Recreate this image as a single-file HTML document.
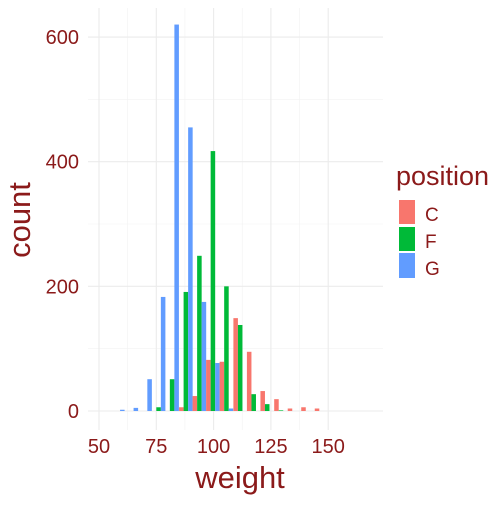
<!DOCTYPE html>
<html><head><meta charset="utf-8"><style>
body{margin:0;background:#fff}
svg text{font-family:"Liberation Sans",sans-serif;fill:#8b1a1a}
</style></head><body>
<svg id="chart" width="504" height="504" xmlns="http://www.w3.org/2000/svg">
<g id="grid"></g><g id="bars"></g><g id="axes"></g>
<text x="240" y="488" font-size="31" text-anchor="middle">weight</text>
<text transform="translate(30,220) rotate(-90)" font-size="31" text-anchor="middle">count</text>
<g>
<text x="396" y="185" font-size="27">position</text>
<rect x="399" y="200" width="16" height="24" fill="#f8766d"/>
<rect x="399" y="227" width="16" height="24" fill="#00ba38"/>
<rect x="399" y="253" width="16" height="25" fill="#619cff"/>
<text x="425" y="221" font-size="19">C</text>
<text x="425" y="248" font-size="19">F</text>
<text x="425" y="275" font-size="19">G</text>
</g>
</svg>
<script>
const binCenters=[58.2,64.1,70.1,76.0,81.9,87.9,93.8,99.7,105.6,111.6,117.5,123.4,129.4,135.3,141.2,147.1];
const countsC=[0,0,0,0,0,6,24,82,79,149,95,32,19,4,6,4];
const countsF=[0,0,0,6,51,191,249,417,200,138,27,11,1,0,0,0];
const countsG=[2,5,51,183,620,455,175,77,4,0,0,0,0,0,0,0];
const xTicks=[50,75,100,125,150];
const yTicks=[0,200,400,600];
const binWidth=5.93;
const NS="http://www.w3.org/2000/svg";
const px0=88,px1=383,py0=8,py1=430;
const sx=v=>99+(v-50)*2.292;
const sy=v=>411-v*0.6233;
function mk(tag,attrs,parent){const e=document.createElementNS(NS,tag);for(const k in attrs)e.setAttribute(k,attrs[k]);parent.appendChild(e);return e;}
const grid=document.getElementById('grid'),bars=document.getElementById('bars'),axes=document.getElementById('axes');
for(let i=0;i<xTicks.length-1;i++){const m=(xTicks[i]+xTicks[i+1])/2;
 const l=mk('line',{x1:sx(m),x2:sx(m),y1:py0,y2:py1,stroke:'#f2f2f2','stroke-width':0.6},grid);
 }
for(let i=0;i<yTicks.length-1;i++){const m=(yTicks[i]+yTicks[i+1])/2;
 const l=mk('line',{x1:px0,x2:px1,y1:sy(m),y2:sy(m),stroke:'#f2f2f2','stroke-width':0.6},grid);
 }
xTicks.forEach(t=>{
 const l=mk('line',{x1:sx(t),x2:sx(t),y1:py0,y2:py1,stroke:'#ebebeb','stroke-width':1.1},grid);
 
 const tx=mk('text',{x:sx(t),y:453,'font-size':20,'text-anchor':'middle'},axes);tx.textContent=t;
 
});
yTicks.forEach(t=>{
 const l=mk('line',{x1:px0,x2:px1,y1:sy(t),y2:sy(t),stroke:'#ebebeb','stroke-width':1.1},grid);
 
 const tx=mk('text',{x:79,y:sy(t)+7,'font-size':20,'text-anchor':'end'},axes);tx.textContent=t;
 
});
const series=[[countsC,'#f8766d','c'],[countsF,'#00ba38','f'],[countsG,'#619cff','g']];
const bw=binWidth*2.292/3;
binCenters.forEach((c,i)=>{
 const left=sx(c-binWidth/2);
 series.forEach((s,j)=>{const v=s[0][i];if(!v)return;
  const r=mk('rect',{x:left+j*bw,y:sy(v),width:bw,height:sy(0)-sy(v),fill:s[1]},bars);
  
 });
});
</script>
</body></html>
